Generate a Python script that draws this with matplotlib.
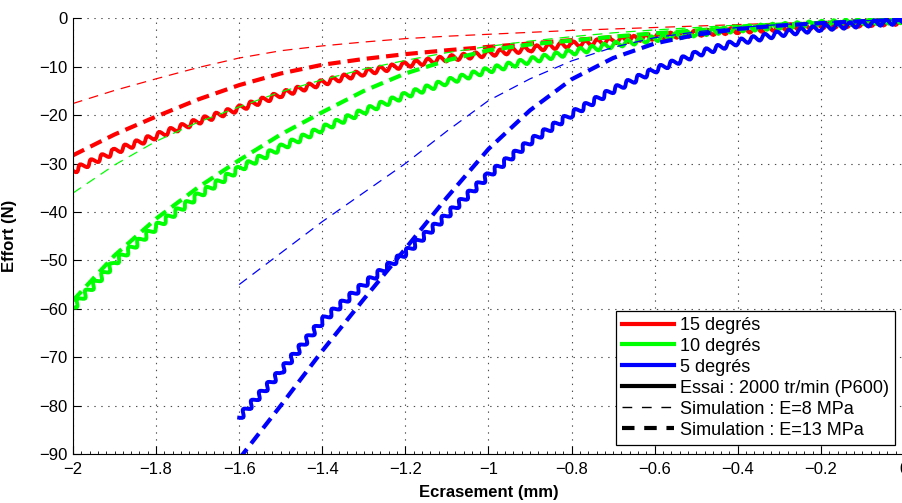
import numpy as np
import matplotlib
matplotlib.use("Agg")
import matplotlib.pyplot as plt
from matplotlib.lines import Line2D
from matplotlib.ticker import MultipleLocator

plt.rcParams['font.family'] = ['Liberation Sans', 'DejaVu Sans']
plt.rcParams['lines.scale_dashes'] = False

# ecrasement (mm), pas de 0.1
x_15 = [-2.0, -1.9, -1.8, -1.7, -1.6, -1.5, -1.4, -1.3, -1.2, -1.1, -1.0,
        -0.9, -0.8, -0.7, -0.6, -0.5, -0.4, -0.3, -0.2, -0.1, 0.0]
x_10 = x_15
x_5 = [-1.6, -1.5, -1.4, -1.3, -1.2, -1.1, -1.0, -0.9, -0.8,
       -0.7, -0.6, -0.5, -0.4, -0.3, -0.2, -0.1, 0.0]

# 15 degres
essai_15 = [-31.5, -27.5, -24.3, -21.3, -18.6, -15.7, -13.3, -11.2, -9.6, -8.3, -7.3,
            -6.3, -5.4, -4.6, -3.8, -3.1, -2.5, -2.0, -1.5, -1.1, -0.7]
sim8_15 = [-17.6, -14.9, -12.5, -10.2, -8.2, -6.7, -5.7, -4.9, -4.2, -3.7, -3.3,
           -2.9, -2.5, -2.2, -1.9, -1.6, -1.3, -1.0, -0.8, -0.5, -0.3]
sim13_15 = [-28.3, -24.0, -20.3, -16.8, -13.8, -11.4, -9.6, -8.4, -7.4, -6.6, -5.9,
            -5.2, -4.5, -3.9, -3.3, -2.7, -2.2, -1.7, -1.3, -0.9, -0.5]

# 10 degres
essai_10 = [-59.7, -50.5, -43.1, -36.7, -31.1, -26.7, -22.8, -19.2, -15.9, -13.1, -10.7,
            -8.7, -7.0, -5.5, -4.2, -3.1, -2.2, -1.6, -1.1, -0.7, -0.4]
sim8_10 = [-36.1, -30.3, -25.4, -21.5, -18.3, -15.2, -12.7, -10.5, -8.7, -7.1, -5.8,
           -4.7, -3.8, -3.0, -2.4, -1.9, -1.4, -1.0, -0.7, -0.4, -0.2]
sim13_10 = [-58.3, -49.0, -41.4, -35.0, -29.3, -24.0, -19.4, -15.0, -11.4, -8.7, -6.6,
            -5.4, -4.6, -3.8, -3.1, -2.5, -1.9, -1.4, -1.0, -0.6, -0.3]

# 5 degres
essai_5 = [-82.5, -73.0, -62.5, -55.0, -48.5, -40.7, -32.4, -25.5, -19.8,
           -14.8, -10.7, -7.4, -4.9, -3.2, -2.0, -1.2, -0.6]
sim8_5 = [-55.0, -48.5, -42.0, -36.0, -30.0, -23.3, -17.0, -12.5, -8.8,
          -6.0, -4.0, -2.8, -1.9, -1.3, -0.9, -0.5, -0.3]
sim13_5 = [-91.0, -80.0, -68.7, -58.0, -47.6, -37.0, -27.0, -19.0, -12.6,
           -8.2, -5.2, -3.4, -2.2, -1.5, -1.0, -0.6, -0.3]

xticks = [-2, -1.8, -1.6, -1.4, -1.2, -1, -0.8, -0.6, -0.4, -0.2, 0]
xlabels = ['\u22122', '\u22121.8', '\u22121.6', '\u22121.4', '\u22121.2', '\u22121',
           '\u22120.8', '\u22120.6', '\u22120.4', '\u22120.2', '0']
yticks = [-90, -80, -70, -60, -50, -40, -30, -20, -10, 0]

fig = plt.figure(figsize=(9.03, 5.03), dpi=100)
ax = fig.add_axes([0.0808, 0.0974, 0.9203, 0.8662])

thin = (0, (7, 5))
thick = (0, (9, 5))

series = [
    ('red', x_15, essai_15, sim8_15, sim13_15),
    ('#00ff00', x_10, essai_10, sim8_10, sim13_10),
    ('blue', x_5, essai_5, sim8_5, sim13_5),
]
for col, xs, essai, s8, s13 in series:
    ax.plot(xs, s8, color=col, lw=0.9, linestyle=thin)
    ax.plot(xs, s13, color=col, lw=3, linestyle=thick, dash_capstyle='butt')
    l, = ax.plot(xs, essai, color=col, lw=2.8, solid_joinstyle='miter')
    l.set_sketch_params(2.8, 12, 1)

ax.set_xlim(-2, 0)
ax.set_ylim(-90, 0)
ax.set_xticks(xticks)
ax.set_xticklabels(xlabels)
ax.set_yticks(yticks)
ax.set_yticklabels(['\u2212%d' % -v if v < 0 else '0' for v in yticks])
ax.xaxis.set_minor_locator(MultipleLocator(0.02))
ax.tick_params(which='major', direction='in', length=5.5, width=0.8,
               labelsize=12, colors='black')
ax.tick_params(axis='x', which='major', pad=6)
ax.tick_params(axis='y', which='major', pad=4)
ax.tick_params(axis='x', which='minor', direction='in', length=2.5, width=0.6)
ax.spines['top'].set_visible(False)
ax.spines['right'].set_visible(False)
ax.grid(True, which='major', color='0.3', linestyle=(0, (1, 4)), lw=0.8)

ax.set_xlabel('Ecrasement (mm)', fontsize=12, fontweight='bold')
ax.set_ylabel('Effort (N)', fontsize=12, fontweight='bold')
ax.xaxis.set_label_coords(0.5, -0.07)
ax.yaxis.set_label_coords(-0.067, 0.5)

handles = [
    Line2D([], [], color='red', lw=3),
    Line2D([], [], color='#00ff00', lw=3),
    Line2D([], [], color='blue', lw=3),
    Line2D([], [], color='black', lw=3),
    Line2D([], [], color='black', lw=1, linestyle=(0, (7, 7))),
    Line2D([], [], color='black', lw=3, linestyle=(0, (9, 7))),
]
labels = ['15 degrés', '10 degrés', '5 degrés', 'Essai : 2000 tr/min (P600)',
          'Simulation : E=8 MPa', 'Simulation : E=13 MPa']
leg = ax.legend(handles, labels, loc='lower right', bbox_to_anchor=(0.9911, 0.1153),
                bbox_transform=fig.transFigure, borderaxespad=0, fontsize=13,
                handlelength=2.9, handletextpad=0.3, labelspacing=0.22,
                borderpad=0.35, fancybox=False, framealpha=1, edgecolor='black')
leg.get_frame().set_linewidth(0.9)

fig.savefig('out.png', dpi=100)
